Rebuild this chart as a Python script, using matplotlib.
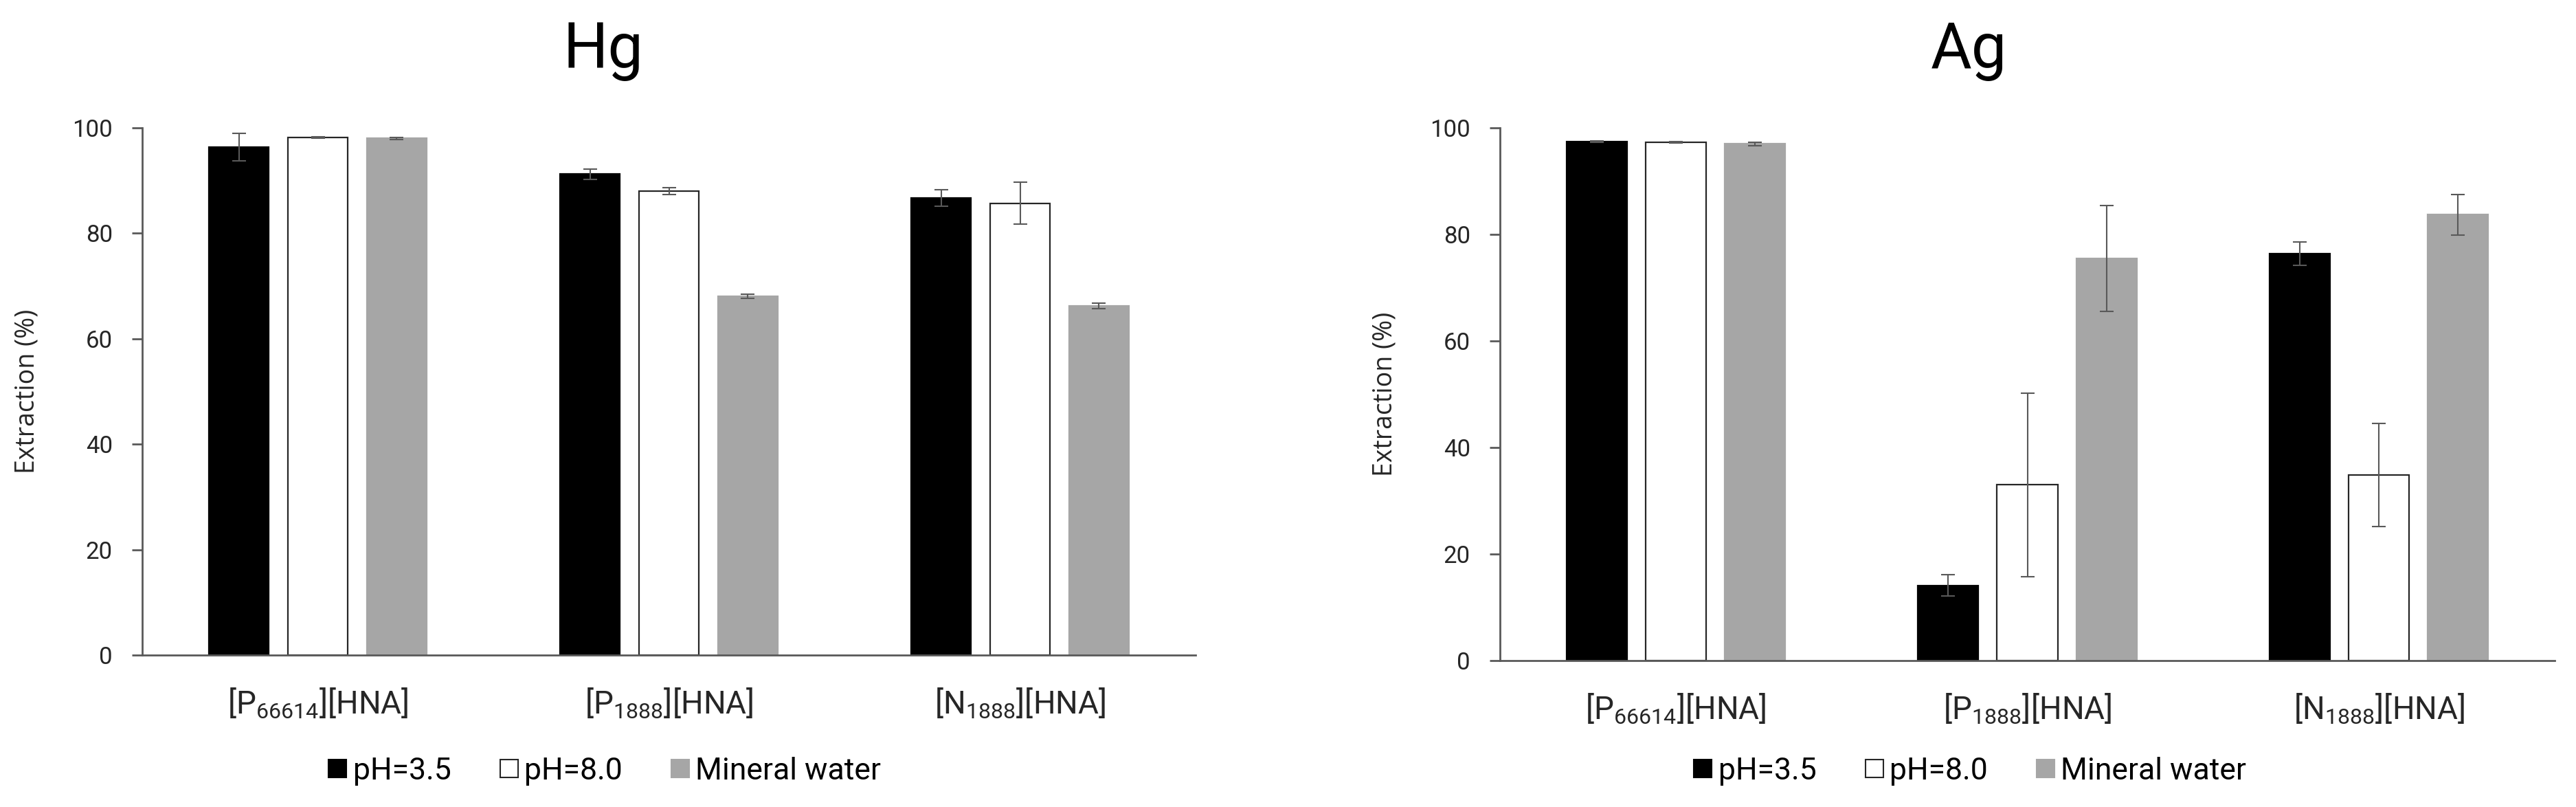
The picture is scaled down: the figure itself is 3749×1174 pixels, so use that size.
import matplotlib
matplotlib.use('Agg')
import matplotlib.pyplot as plt
from matplotlib.lines import Line2D
import numpy as np

plt.rcParams['font.family'] = ['Roboto', 'DejaVu Sans']
plt.rcParams['mathtext.default'] = 'regular'

# data
categories = ['[P$_{66614}$][HNA]', '[P$_{1888}$][HNA]', '[N$_{1888}$][HNA]']
series = ['pH=3.5', 'pH=8.0', 'Mineral water']

hg_ph35 = [96.4, 91.2, 86.7]
hg_ph80 = [98.2, 88.0, 85.7]
hg_mineral = [98.0, 68.1, 66.2]
hg_ph35_err = [2.6, 1.0, 1.6]
hg_ph80_err = [0.1, 0.6, 4.0]
hg_mineral_err = [0.2, 0.4, 0.5]

ag_ph35 = [97.4, 14.1, 76.4]
ag_ph80 = [97.3, 33.0, 34.8]
ag_mineral = [97.0, 75.5, 83.7]
ag_ph35_err = [0.1, 2.0, 2.2]
ag_ph80_err = [0.1, 17.2, 9.7]
ag_mineral_err = [0.3, 9.9, 3.8]

yticks = [0, 20, 40, 60, 80, 100]

faces = ['black', 'white', '#a6a6a6']
edges = ['black', '#262626', '#a6a6a6']
axcol = '#595959'

fig = plt.figure(figsize=(37.49, 11.74), dpi=100)
W, H = 3749, 1174


def panel(rect, vals, errs, title, title_x):
    ax = fig.add_axes(rect)
    x = np.arange(len(categories))
    w = 0.172
    step = 0.225
    for i in range(3):
        ax.bar(x + (i - 1) * step, vals[i], w, color=faces[i],
               edgecolor=edges[i], linewidth=1.6, zorder=2)
        ax.errorbar(x + (i - 1) * step, vals[i], yerr=errs[i], fmt='none',
                    ecolor=axcol, elinewidth=1.5, capsize=7, capthick=1.5,
                    zorder=3)
    ax.set_xlim(-0.5, 2.5)
    ax.set_ylim(0, 100)
    ax.set_yticks(yticks)
    ax.set_xticks(x)
    ax.set_xticklabels(categories, fontsize=33, color='#262626')
    ax.tick_params(axis='x', length=0, pad=33)
    ax.tick_params(axis='y', length=11, width=2, color=axcol, pad=20,
                   labelsize=25, labelcolor='#262626', direction='out')
    for s in ['top', 'right']:
        ax.spines[s].set_visible(False)
    for s in ['left', 'bottom']:
        ax.spines[s].set_color(axcol)
        ax.spines[s].set_linewidth(2)
    ax.set_ylabel('Extraction (%)', fontsize=27, family=['Open Sans', 'DejaVu Sans'],
                  color='#262626')
    ax.yaxis.set_label_coords(-0.097, 0.5)
    fig.text(title_x / W, 1 - 99 / H, title, fontsize=66, ha='center', va='baseline')
    handles = [Line2D([], [], marker='s', linestyle='none', markersize=19,
                      markerfacecolor=faces[i], markeredgecolor=edges[i],
                      markeredgewidth=1.5) for i in range(3)]
    fig.legend(handles, series, loc='center', ncol=3, frameon=False,
               fontsize=32, bbox_to_anchor=(title_x / W, 1 - 1122 / H),
               handletextpad=0.1, columnspacing=1.5, handlelength=0.8)
    return ax


panel([207 / W, 1 - 953 / H, 1533 / W, 767 / H],
      [hg_ph35, hg_ph80, hg_mineral],
      [hg_ph35_err, hg_ph80_err, hg_mineral_err], 'Hg', 878)
panel([2183 / W, 1 - 961 / H, 1535 / W, 775 / H],
      [ag_ph35, ag_ph80, ag_mineral],
      [ag_ph35_err, ag_ph80_err, ag_mineral_err], 'Ag', 2865)

fig.savefig('out.png', dpi=100)
